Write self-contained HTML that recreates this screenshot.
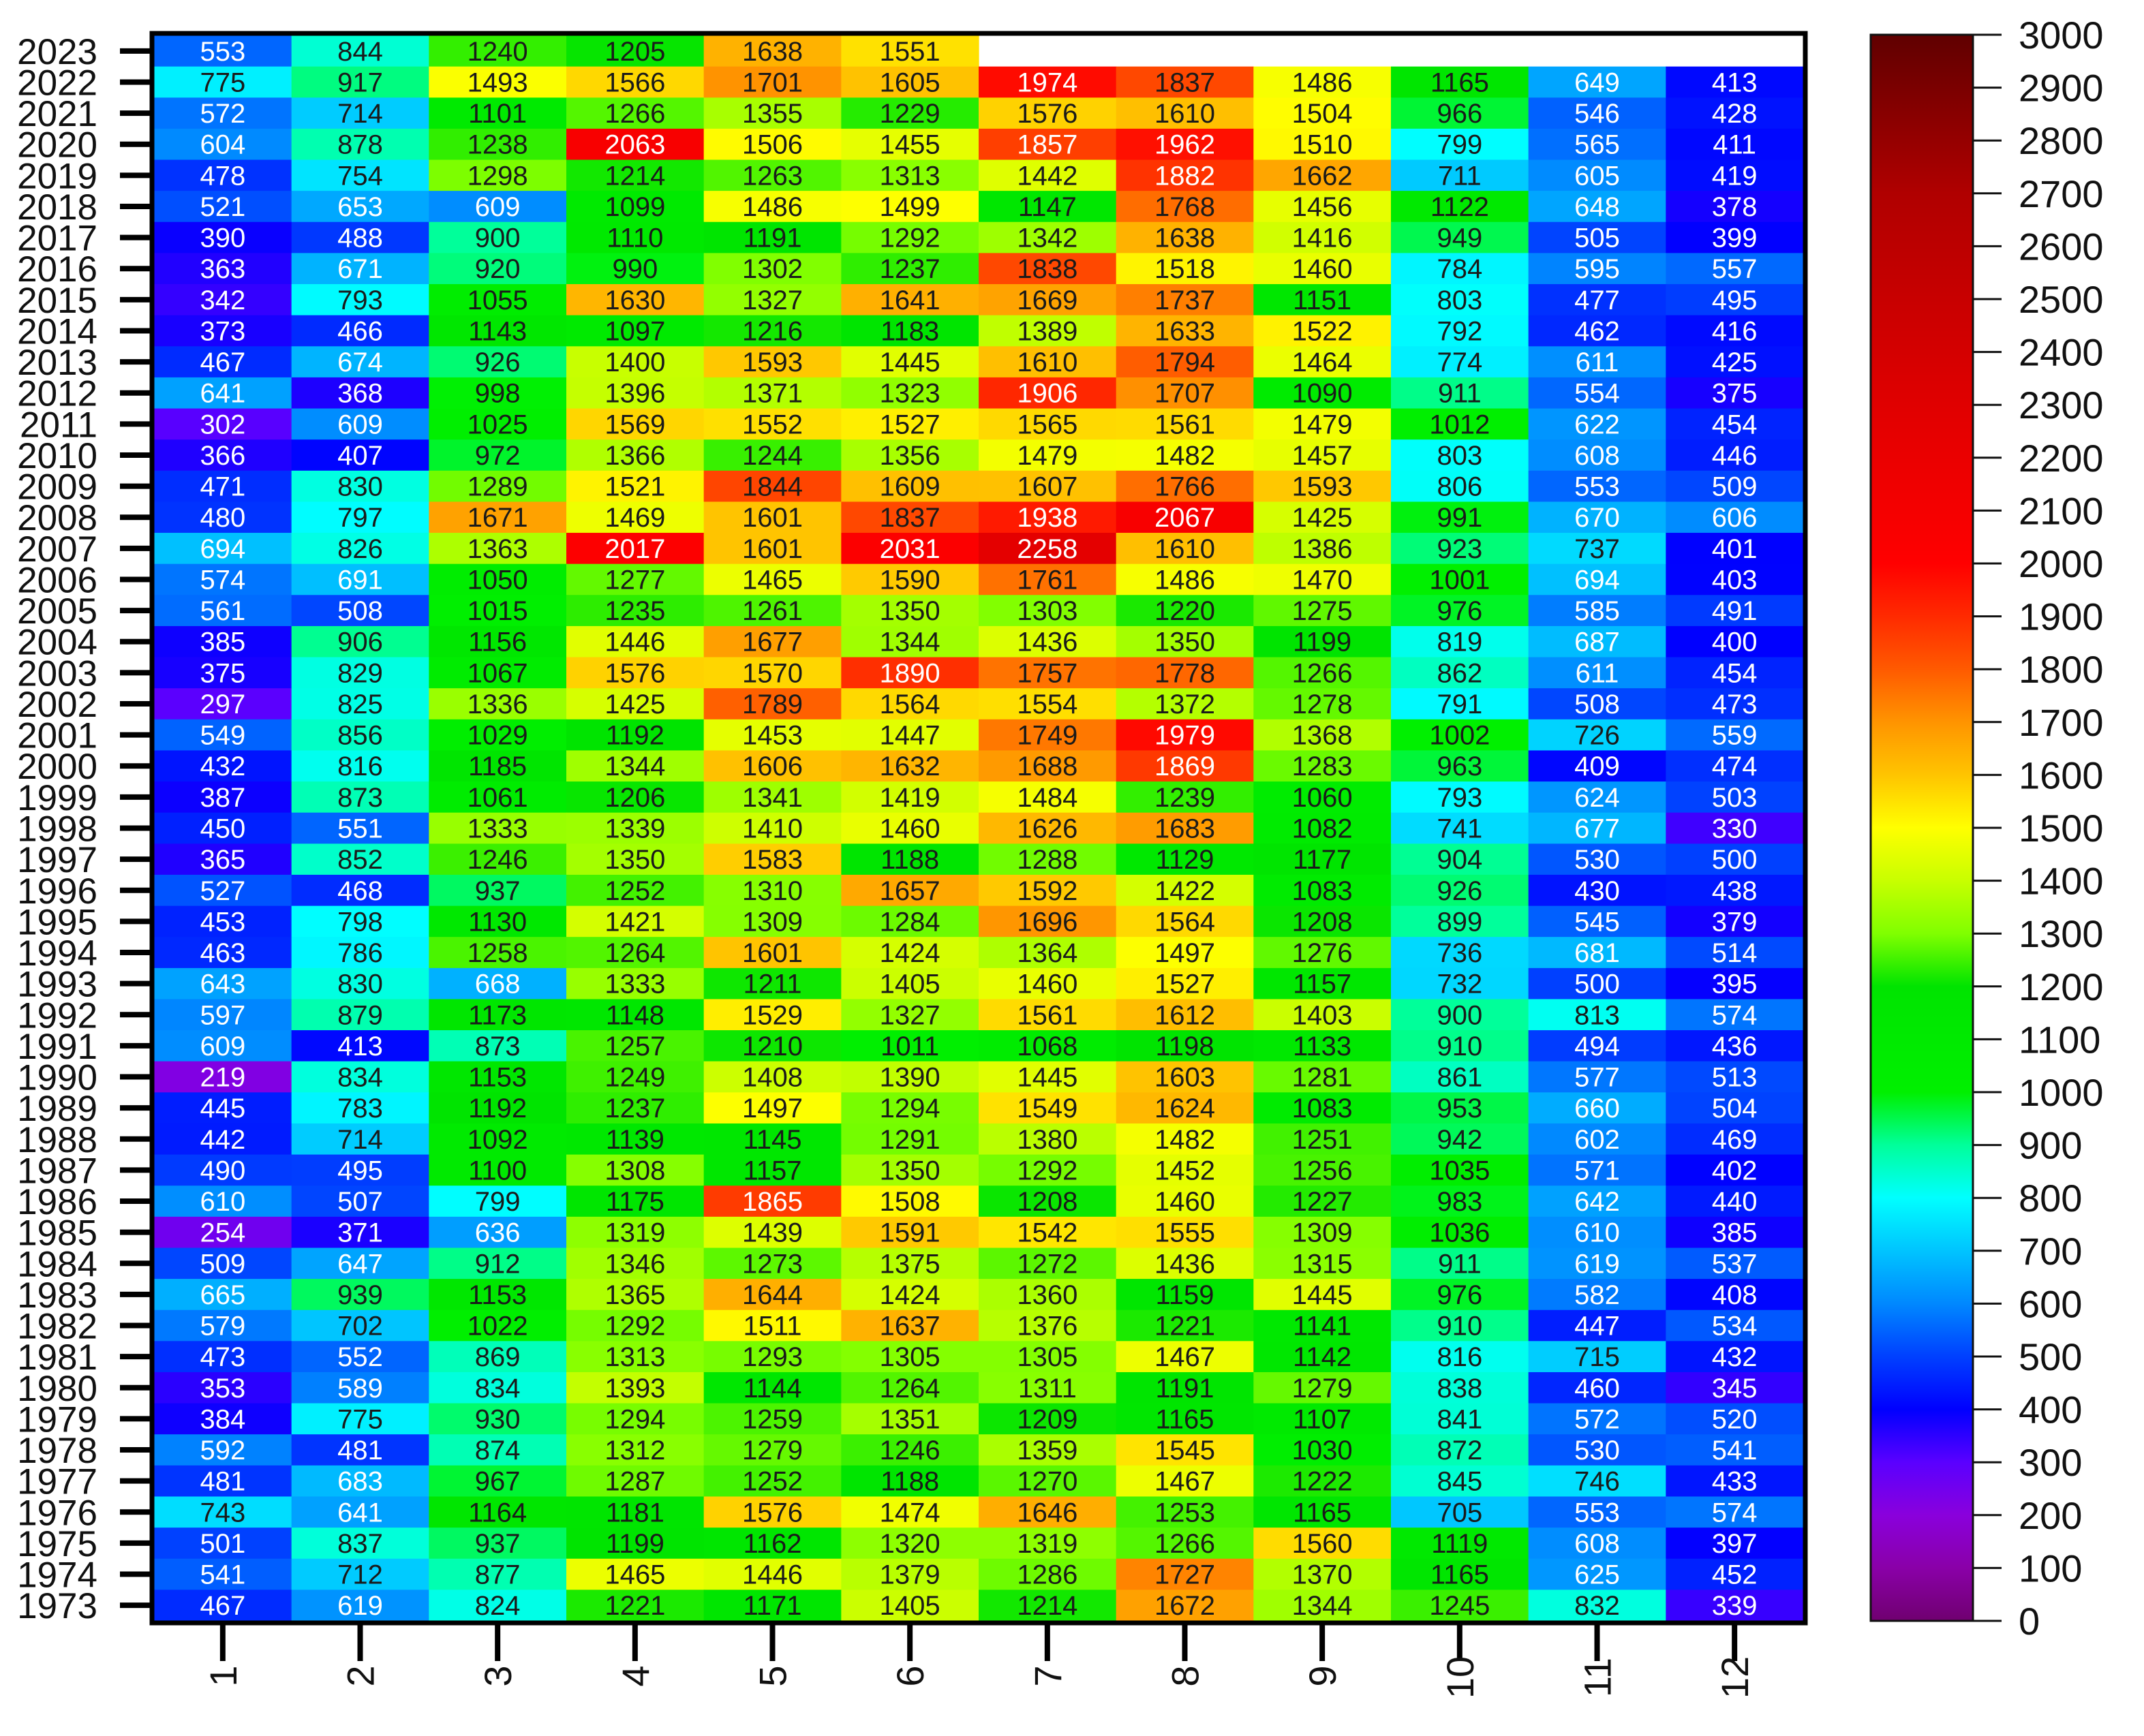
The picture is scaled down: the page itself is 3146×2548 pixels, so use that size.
<!DOCTYPE html>
<html><head><meta charset="utf-8"><title>Monthly heatmap 1973-2023</title>
<style>html,body{margin:0;padding:0;background:#fff}svg{display:block}text{font-family:"Liberation Sans",Arial,sans-serif}</style>
</head><body>
<svg id="chart" xmlns="http://www.w3.org/2000/svg" width="3146" height="2548" viewBox="0 0 3146 2548">
<rect width="3146" height="2548" fill="#fff"/>
<defs><linearGradient id="cbgrad" x1="0" y1="1" x2="0" y2="0"></linearGradient></defs>
<g id="cells"></g>
<g id="yaxis"></g>
<g id="xaxis"></g>
<g id="colorbar"></g>
</svg>
<script>
const years = [2023,2022,2021,2020,2019,2018,2017,2016,2015,2014,2013,2012,2011,2010,2009,2008,2007,2006,2005,2004,2003,2002,2001,2000,1999,1998,1997,1996,1995,1994,1993,1992,1991,1990,1989,1988,1987,1986,1985,1984,1983,1982,1981,1980,1979,1978,1977,1976,1975,1974,1973];
const months = [1,2,3,4,5,6,7,8,9,10,11,12];
const values = [
[553,844,1240,1205,1638,1551],
[775,917,1493,1566,1701,1605,1974,1837,1486,1165,649,413],
[572,714,1101,1266,1355,1229,1576,1610,1504,966,546,428],
[604,878,1238,2063,1506,1455,1857,1962,1510,799,565,411],
[478,754,1298,1214,1263,1313,1442,1882,1662,711,605,419],
[521,653,609,1099,1486,1499,1147,1768,1456,1122,648,378],
[390,488,900,1110,1191,1292,1342,1638,1416,949,505,399],
[363,671,920,990,1302,1237,1838,1518,1460,784,595,557],
[342,793,1055,1630,1327,1641,1669,1737,1151,803,477,495],
[373,466,1143,1097,1216,1183,1389,1633,1522,792,462,416],
[467,674,926,1400,1593,1445,1610,1794,1464,774,611,425],
[641,368,998,1396,1371,1323,1906,1707,1090,911,554,375],
[302,609,1025,1569,1552,1527,1565,1561,1479,1012,622,454],
[366,407,972,1366,1244,1356,1479,1482,1457,803,608,446],
[471,830,1289,1521,1844,1609,1607,1766,1593,806,553,509],
[480,797,1671,1469,1601,1837,1938,2067,1425,991,670,606],
[694,826,1363,2017,1601,2031,2258,1610,1386,923,737,401],
[574,691,1050,1277,1465,1590,1761,1486,1470,1001,694,403],
[561,508,1015,1235,1261,1350,1303,1220,1275,976,585,491],
[385,906,1156,1446,1677,1344,1436,1350,1199,819,687,400],
[375,829,1067,1576,1570,1890,1757,1778,1266,862,611,454],
[297,825,1336,1425,1789,1564,1554,1372,1278,791,508,473],
[549,856,1029,1192,1453,1447,1749,1979,1368,1002,726,559],
[432,816,1185,1344,1606,1632,1688,1869,1283,963,409,474],
[387,873,1061,1206,1341,1419,1484,1239,1060,793,624,503],
[450,551,1333,1339,1410,1460,1626,1683,1082,741,677,330],
[365,852,1246,1350,1583,1188,1288,1129,1177,904,530,500],
[527,468,937,1252,1310,1657,1592,1422,1083,926,430,438],
[453,798,1130,1421,1309,1284,1696,1564,1208,899,545,379],
[463,786,1258,1264,1601,1424,1364,1497,1276,736,681,514],
[643,830,668,1333,1211,1405,1460,1527,1157,732,500,395],
[597,879,1173,1148,1529,1327,1561,1612,1403,900,813,574],
[609,413,873,1257,1210,1011,1068,1198,1133,910,494,436],
[219,834,1153,1249,1408,1390,1445,1603,1281,861,577,513],
[445,783,1192,1237,1497,1294,1549,1624,1083,953,660,504],
[442,714,1092,1139,1145,1291,1380,1482,1251,942,602,469],
[490,495,1100,1308,1157,1350,1292,1452,1256,1035,571,402],
[610,507,799,1175,1865,1508,1208,1460,1227,983,642,440],
[254,371,636,1319,1439,1591,1542,1555,1309,1036,610,385],
[509,647,912,1346,1273,1375,1272,1436,1315,911,619,537],
[665,939,1153,1365,1644,1424,1360,1159,1445,976,582,408],
[579,702,1022,1292,1511,1637,1376,1221,1141,910,447,534],
[473,552,869,1313,1293,1305,1305,1467,1142,816,715,432],
[353,589,834,1393,1144,1264,1311,1191,1279,838,460,345],
[384,775,930,1294,1259,1351,1209,1165,1107,841,572,520],
[592,481,874,1312,1279,1246,1359,1545,1030,872,530,541],
[481,683,967,1287,1252,1188,1270,1467,1222,845,746,433],
[743,641,1164,1181,1576,1474,1646,1253,1165,705,553,574],
[501,837,937,1199,1162,1320,1319,1266,1560,1119,608,397],
[541,712,877,1465,1446,1379,1286,1727,1370,1165,625,452],
[467,619,824,1221,1171,1405,1214,1672,1344,1245,832,339]
];
const cbTicks = [0,100,200,300,400,500,600,700,800,900,1000,1100,1200,1300,1400,1500,1600,1700,1800,1900,2000,2100,2200,2300,2400,2500,2600,2700,2800,2900,3000];
const cbMin = 0, cbMax = 3000;
const stopVals = [0,100,200,300,400,500,600,700,800,900,1000,1200,1300,1400,1500,1600,1700,1800,1900,2000,2300,2700,3000];
const stopCols = ["#700070","#8a00a8","#8a00dc","#5a00ff","#0000ff","#0040ff","#0088ff","#00c4ff","#00ffff","#00ff9a","#00f000","#00e400","#80ff00","#c8ff00","#ffff00","#ffc400","#ff9400","#ff5a00","#ff2a00","#ff0000","#e00000","#b00000","#600000"];

const NS = "http://www.w3.org/2000/svg";
const PL = 226, PR = 2646, PT = 52, PB = 2379;
const colW = (PR - PL) / months.length, rowH = (PB - PT) / years.length;
const xPos = i => PL + i * colW;
const yPos = r => PT + r * rowH;
const CB = {x0: 2745, x1: 2895, y0: 51, y1: 2379};
const cbY = v => CB.y1 - (v - cbMin) / (cbMax - cbMin) * (CB.y1 - CB.y0);

function hex(h){return [parseInt(h.substr(1,2),16),parseInt(h.substr(3,2),16),parseInt(h.substr(5,2),16)];}
function colorOf(v){
  if (v <= stopVals[0]) return stopCols[0];
  for (let i = 1; i < stopVals.length; i++){
    if (v <= stopVals[i]){
      const t = (v - stopVals[i-1]) / (stopVals[i] - stopVals[i-1]);
      const a = hex(stopCols[i-1]), b = hex(stopCols[i]);
      return "rgb(" + a.map((c,k)=>Math.round(c + (b[k]-c)*t)).join(",") + ")";
    }
  }
  return stopCols[stopCols.length-1];
}
function mk(tag, attrs, parent){
  const e = document.createElementNS(NS, tag);
  for (const k in attrs) e.setAttribute(k, attrs[k]);
  parent.appendChild(e);
  return e;
}

const cells = document.getElementById("cells");
values.forEach((row, r) => {
  row.forEach((v, c) => {
    const rect = mk("rect", {x: xPos(c), y: yPos(r), width: colW + 0.6, height: rowH + 0.6, fill: colorOf(v)}, cells);
    
    
    const t = mk("text", {x: xPos(c) + colW/2, y: yPos(r) + rowH/2 + 14, "text-anchor": "middle", "font-size": 40, fill: (v < 700 || v >= 1850) ? "#ffffff" : "#1a1a1a"}, cells);
    t.textContent = v;
    
    
  });
});
// frame
const frame = mk("rect", {x: PL - 3, y: PT - 3, width: PR - PL + 6, height: PB - PT + 6, fill: "none", stroke: "#000", "stroke-width": 7}, cells);



const yaxis = document.getElementById("yaxis");
years.forEach((y, r) => {
  const cy = yPos(r) + rowH/2;
  const tk = mk("line", {x1: 176, x2: PL - 4, y1: cy, y2: cy, stroke: "#000", "stroke-width": 8}, yaxis);
  
  
  const t = mk("text", {x: 143, y: cy + 19, "text-anchor": "end", "font-size": 53, fill: "#111"}, yaxis);
  t.textContent = y;
  
  
});

const xaxis = document.getElementById("xaxis");
months.forEach((m, c) => {
  const cx = xPos(c) + colW/2;
  const tk = mk("line", {x1: cx, x2: cx, y1: PB + 4, y2: 2438, stroke: "#000", "stroke-width": 8}, xaxis);
  
  
  const t = mk("text", {x: 0, y: 0, "text-anchor": "middle", "font-size": 56, fill: "#111", transform: "translate(" + (cx + 20) + "," + (m >= 10 ? 2462 : 2460) + ") rotate(-90)"}, xaxis);
  t.textContent = m;
  
  
});

// colorbar
const grad = document.getElementById("cbgrad");
stopVals.forEach((v, i) => {
  mk("stop", {offset: ((v - cbMin)/(cbMax - cbMin)*100) + "%", "stop-color": stopCols[i]}, grad);
});
const cb = document.getElementById("colorbar");
const cbr = mk("rect", {x: CB.x0, y: CB.y0, width: CB.x1 - CB.x0, height: CB.y1 - CB.y0, fill: "url(#cbgrad)", stroke: "#111", "stroke-width": 3}, cb);


cbTicks.forEach(v => {
  const y = cbY(v);
  const tk = mk("line", {x1: CB.x1, x2: 2937, y1: y, y2: y, stroke: "#111", "stroke-width": 3}, cb);
  
  
  const t = mk("text", {x: 2962, y: y + 20, "font-size": 56, fill: "#111"}, cb);
  t.textContent = v;
  
  
});
</script>
</body></html>
